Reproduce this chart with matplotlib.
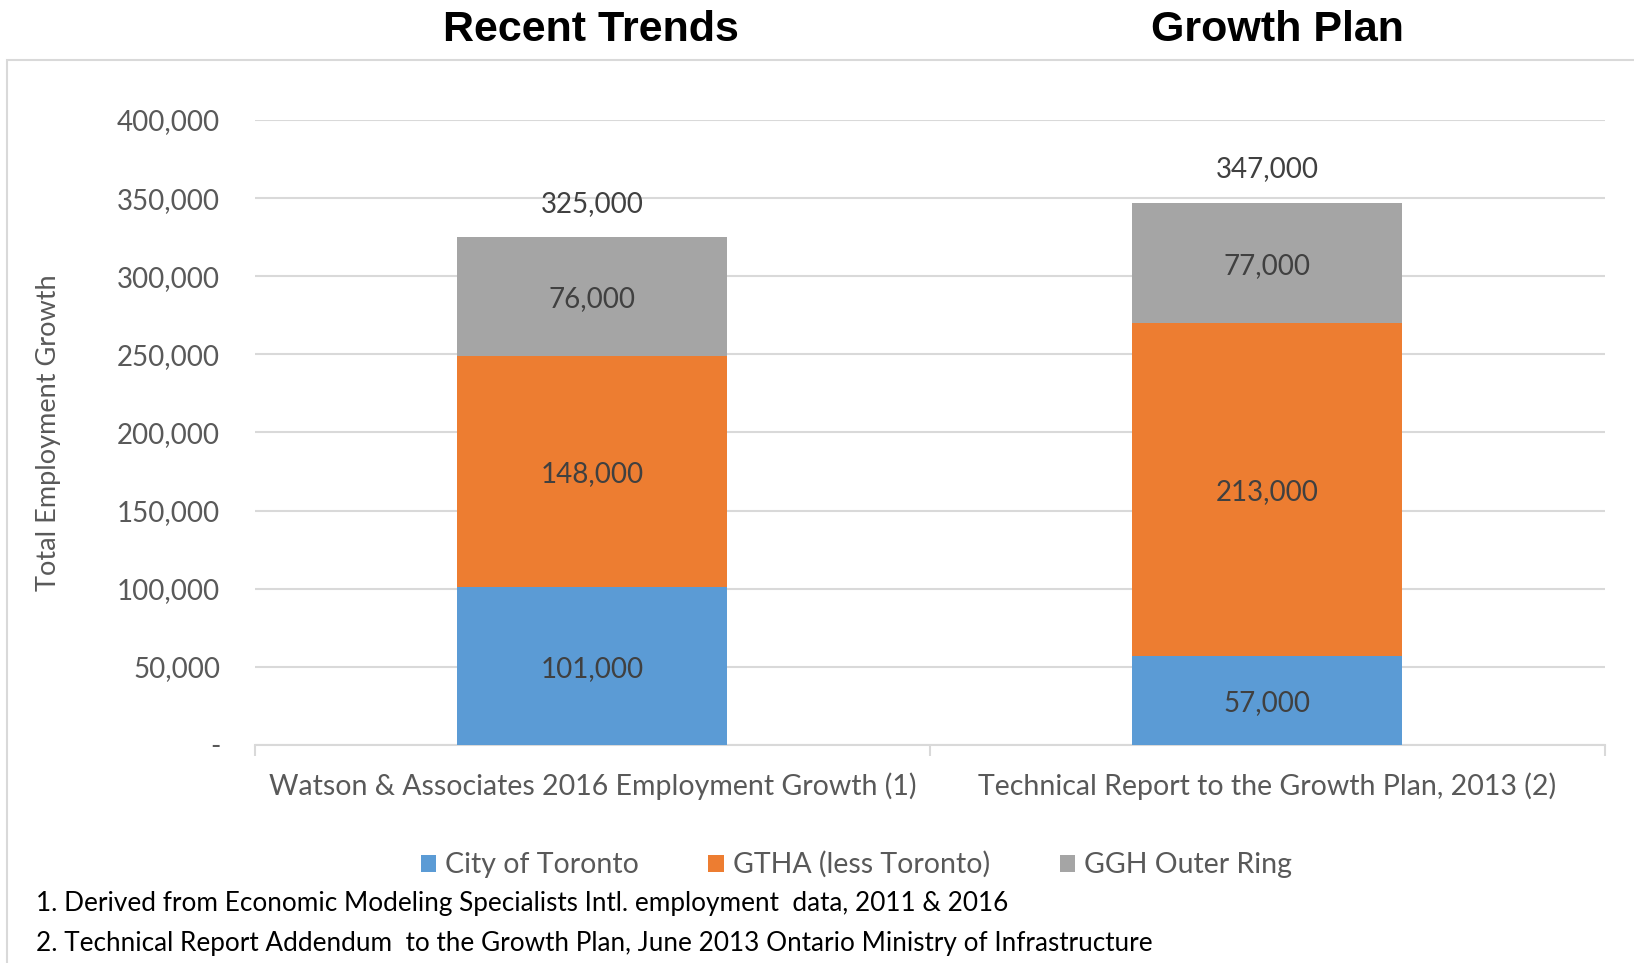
import matplotlib.pyplot as plt
import numpy as np
from matplotlib.patches import Rectangle, Patch

categories = ['Watson & Associates 2016 Employment Growth (1)',
              'Technical Report to the Growth Plan, 2013 (2)']
series_names = ['City of Toronto', 'GTHA (less Toronto)', 'GGH Outer Ring']
toronto = [101000, 57000]
gtha = [148000, 213000]
outer_ring = [76000, 77000]
totals = [325000, 347000]
panel_titles = ['Recent Trends', 'Growth Plan']
notes = ['1. Derived from Economic Modeling Specialists Intl. employment  data, 2011 & 2016',
         '2. Technical Report Addendum  to the Growth Plan, June 2013 Ontario Ministry of Infrastructure']

colors = ['#5B9BD5', '#ED7D31', '#A5A5A5']
txt = '#595959'
grid = '#D9D9D9'
plt.rcParams['font.family'] = ['Lato', 'DejaVu Sans']

fig = plt.figure(figsize=(16.34, 9.63), dpi=100)
ax = fig.add_axes([0.156, 0.2264, 0.826, 0.649])

x = np.arange(len(categories))
bottom = np.zeros(len(categories))
for vals, c in zip([toronto, gtha, outer_ring], colors):
    ax.bar(x, vals, width=0.4, bottom=bottom, color=c, zorder=3)
    for xi, b, v in zip(x, bottom, vals):
        ax.annotate(f'{v:,}', (xi, b + v / 2), xytext=(0, -2), textcoords='offset points',
                    ha='center', va='center', fontsize=20, color='#404040', zorder=4)
    bottom += np.array(vals)

for xi, t in zip(x, totals):
    ax.annotate(f'{t:,}', (xi, t), xytext=(0, 24), textcoords='offset points',
                ha='center', va='center', fontsize=20, color='#404040')

ax.set_xlim(-0.5, 1.5)
ax.set_ylim(0, 400000)
yt = np.arange(0, 400001, 50000)
ax.set_yticks(yt)
ax.set_yticklabels(['-'] + [f'{v:,}' for v in yt[1:]])
ax.yaxis.grid(True, color=grid, lw=1.5, zorder=0)
ax.set_xticks(x)
ax.set_xticklabels(categories)
ax.set_xticks([-0.5, 0.5, 1.5], minor=True)
ax.tick_params(axis='x', which='major', length=0, pad=20, labelsize=20.5, labelcolor=txt)
ax.tick_params(axis='x', which='minor', length=8, color=grid, width=1.5)
ax.tick_params(axis='y', length=0, pad=25, labelsize=20, labelcolor=txt)
for s in ['top', 'right', 'left']:
    ax.spines[s].set_visible(False)
ax.spines['bottom'].set_color(grid)
ax.spines['bottom'].set_linewidth(1.5)
ax.set_ylabel('Total Employment Growth', fontsize=19.5, color=txt)
ax.yaxis.set_label_coords(-0.144, 0.5)

# outer chart frame
fig.patches.append(Rectangle((0.004, -0.01), 1.0, 0.948, transform=fig.transFigure,
                             fill=False, edgecolor=grid, lw=1.5))

# headings above each bar group
for xf, title in zip([0.3617, 0.7815], panel_titles):
    fig.text(xf, 0.969, title, ha='center', va='center', fontsize=31,
             fontweight='bold', family='Liberation Sans', color='black')

handles = [Patch(facecolor=c, label=n) for c, n in zip(colors, series_names)]
fig.legend(handles=handles, loc='center', bbox_to_anchor=(0.524, 0.102), ncol=3,
           frameon=False, fontsize=20.5, labelcolor=txt, handlelength=0.55,
           handleheight=0.55, handletextpad=0.3, columnspacing=2.45)

fig.text(0.022, 0.062, notes[0], fontsize=18.8, color='black', va='center')
fig.text(0.022, 0.020, notes[1], fontsize=18.8, color='black', va='center')

fig.savefig('out.png', dpi=100)
